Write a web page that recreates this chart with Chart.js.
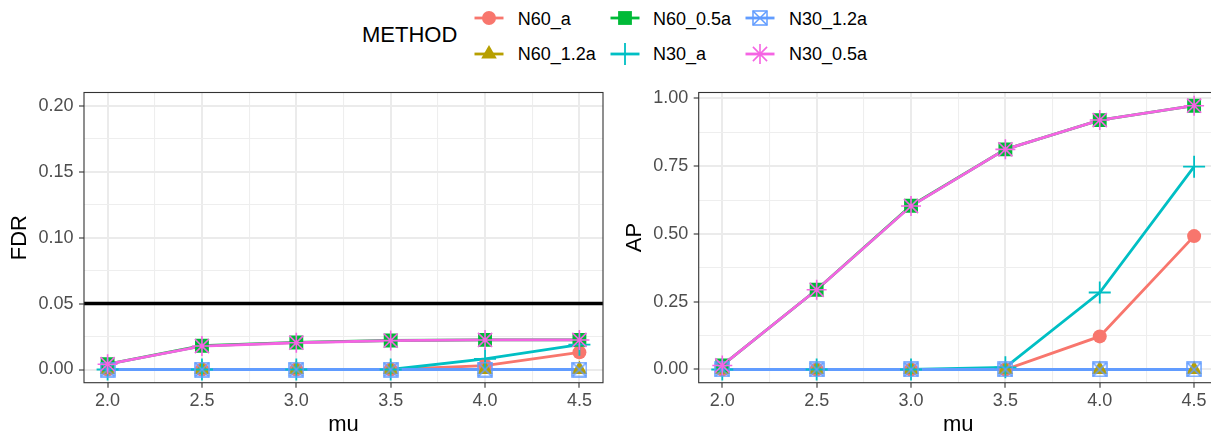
<!DOCTYPE html>
<html>
<head>
<meta charset="utf-8">
<script src="https://cdn.jsdelivr.net/npm/chart.js@4.4.1/dist/chart.umd.min.js"></script>
<style>
  html, body { margin: 0; padding: 0; background: #fff; }
  body { width: 1211px; height: 434px; overflow: hidden; position: relative;
         font-family: "Liberation Sans", Arial, Helvetica, sans-serif; }
  .panel { position: absolute; top: 75px; }
  .lg { position: absolute; white-space: nowrap; color: #000; }
  .lgTitle { font-size: 22px; line-height: 22px; }
  .lgText { font-size: 18px; line-height: 18px; }
  .key { position: absolute; }
</style>
</head>
<body>
<canvas id="fdrChart" class="panel" width="606" height="365" style="left:0px"></canvas>
<canvas id="apChart" class="panel" width="620" height="365" style="left:606px"></canvas>
<div id="legend"></div>

<script>
// x values and tick labels
var muValues = [2.0, 2.5, 3.0, 3.5, 4.0, 4.5];
var muTicks = [2.0, 2.5, 3.0, 3.5, 4.0, 4.5];
var fdrTicks = [0, 0.05, 0.10, 0.15, 0.20];
var apTicks = [0, 0.25, 0.50, 0.75, 1.00];
var methods = ['N60_a', 'N60_1.2a', 'N60_0.5a', 'N30_a', 'N30_1.2a', 'N30_0.5a'];
var fdrLevel = 0.05;

// FDR panel
var fdr_N60_a    = [0, 0, 0, 0, 0.003, 0.013];
var fdr_N60_1_2a = [0, 0, 0, 0, 0, 0];
var fdr_N60_0_5a = [0.004, 0.018, 0.0205, 0.022, 0.0225, 0.0225];
var fdr_N30_a    = [0, 0, 0, 0, 0.008, 0.0188];
var fdr_N30_1_2a = [0, 0, 0, 0, 0, 0];
var fdr_N30_0_5a = [0.004, 0.0178, 0.0203, 0.0219, 0.0224, 0.0224];

// AP panel
var ap_N60_a    = [0, 0, 0, 0, 0.122, 0.492];
var ap_N60_1_2a = [0, 0, 0, 0, 0, 0];
var ap_N60_0_5a = [0.015, 0.294, 0.604, 0.812, 0.920, 0.973];
var ap_N30_a    = [0, 0, 0, 0.008, 0.284, 0.748];
var ap_N30_1_2a = [0, 0, 0, 0, 0, 0];
var ap_N30_0_5a = [0.015, 0.294, 0.603, 0.812, 0.920, 0.973];

var fdrSeries = [fdr_N60_a, fdr_N60_1_2a, fdr_N60_0_5a, fdr_N30_a, fdr_N30_1_2a, fdr_N30_0_5a];
var apSeries = [ap_N60_a, ap_N60_1_2a, ap_N60_0_5a, ap_N30_a, ap_N30_1_2a, ap_N30_0_5a];

var colors = ['#F8766D', '#B79F00', '#00BA38', '#00BFC4', '#619CFF', '#F564E3'];
var shapes = ['circle', 'triangle', 'rect', 'cross', 'boxcross', 'star'];
var FONT = '"Liberation Sans", Arial, Helvetica, sans-serif';

// square with an X (ggplot shape 7)
var boxCross = document.createElement('canvas');
boxCross.width = 16; boxCross.height = 16;
(function () {
  var c = boxCross.getContext('2d');
  c.strokeStyle = colors[4];
  c.lineWidth = 1.5;
  c.strokeRect(1, 1, 14, 14);
  c.beginPath();
  c.moveTo(1, 1); c.lineTo(15, 15);
  c.moveTo(15, 1); c.lineTo(1, 15);
  c.stroke();
})();

function pointOpts(i) {
  var s = shapes[i];
  if (s === 'circle') return { pointStyle: 'circle', pointRadius: 7, pointBorderWidth: 0 };
  if (s === 'triangle') return { pointStyle: 'triangle', pointRadius: 9, pointBorderWidth: 0 };
  if (s === 'rect') return { pointStyle: 'rect', pointRadius: 9.8, pointBorderWidth: 0 };
  if (s === 'cross') return { pointStyle: 'cross', pointRadius: 11, pointBorderWidth: 1.8 };
  if (s === 'star') return { pointStyle: 'star', pointRadius: 10, pointBorderWidth: 1.6 };
  return { pointStyle: boxCross, pointRadius: 8, pointBorderWidth: 0 };
}

function isMajor(v, majors) {
  for (var i = 0; i < majors.length; i++) {
    if (Math.abs(majors[i] - v) < 1e-9) return true;
  }
  return false;
}
function withMinor(majors) {
  var out = [];
  for (var i = 0; i < majors.length; i++) {
    out.push(majors[i]);
    if (i < majors.length - 1) out.push((majors[i] + majors[i + 1]) / 2);
  }
  return out;
}

var panelBorder = {
  id: 'panelBorder',
  afterDatasetsDraw: function (chart) {
    var a = chart.chartArea, ctx = chart.ctx;
    ctx.save();
    ctx.strokeStyle = '#333333';
    ctx.lineWidth = 1.1;
    ctx.strokeRect(a.left, a.top, a.right - a.left, a.bottom - a.top);
    ctx.restore();
  }
};

function gridOpts(majors) {
  return {
    color: function (c) { return c.tick && isMajor(c.tick.value, majors) ? '#EBEBEB' : '#EEEEEE'; },
    lineWidth: function (c) { return c.tick && isMajor(c.tick.value, majors) ? 2 : 1.1; },
    tickColor: function (c) { return c.tick && isMajor(c.tick.value, majors) ? '#333333' : 'rgba(0,0,0,0)'; },
    tickLength: 5,
    tickWidth: 1.1,
    drawTicks: true
  };
}

function makeChart(id, series, yTitle, yTicks, yMin, yMax, digits, yWidth, yTitlePad, padRight, extra) {
  var datasets = [];
  series.forEach(function (vals, i) {
    var pts = muValues.map(function (m, k) { return { x: m, y: vals[k] }; });
    // lines first, then points on top (like ggplot layers)
    datasets.push({
      label: methods[i], data: pts, borderColor: colors[i], backgroundColor: colors[i],
      borderWidth: 2.8, pointRadius: 0, order: 100 - i
    });
    var p = pointOpts(i);
    datasets.push(Object.assign({
      label: methods[i] + ' pts', data: pts, showLine: false,
      borderColor: colors[i], backgroundColor: colors[i],
      pointBackgroundColor: colors[i], pointBorderColor: colors[i], order: 50 - i
    }, p));
  });
  if (extra) datasets.push(extra);

  return new Chart(document.getElementById(id), {
    type: 'line',
    data: { datasets: datasets },
    options: {
      responsive: false,
      animation: false,
      layout: { autoPadding: false, padding: { top: 17.5, right: padRight, left: 0, bottom: 0 } },
      plugins: { legend: { display: false }, tooltip: { enabled: false } },
      scales: {
        x: {
          type: 'linear', min: 1.875, max: 4.625,
          afterBuildTicks: function (s) { s.ticks = withMinor(muTicks).map(function (v) { return { value: v }; }); },
          afterFit: function (s) { s.height = 57.3; s.paddingLeft = 0; s.paddingRight = 0; },
          ticks: {
            autoSkip: false, maxRotation: 0, padding: 2.5, color: '#4D4D4D',
            font: { family: FONT, size: 18 },
            callback: function (v) { return isMajor(v, muTicks) ? v.toFixed(1) : ''; }
          },
          grid: gridOpts(muTicks),
          border: { display: false },
          title: { display: true, text: 'mu', color: '#000', font: { family: FONT, size: 22, lineHeight: 1 },
                   padding: { top: 0, bottom: 4 } }
        },
        y: {
          type: 'linear', min: yMin, max: yMax,
          afterBuildTicks: function (s) { s.ticks = withMinor(yTicks).map(function (v) { return { value: v }; }); },
          afterFit: function (s) { s.width = yWidth; s.paddingTop = 0; s.paddingBottom = 0; },
          ticks: {
            autoSkip: false, padding: 5.5, color: '#4D4D4D',
            font: { family: FONT, size: 18 },
            callback: function (v) { return isMajor(v, yTicks) ? v.toFixed(digits) : ''; }
          },
          grid: gridOpts(yTicks),
          border: { display: false },
          title: { display: true, text: yTitle, color: '#000', font: { family: FONT, size: 22, lineHeight: 1 },
                   padding: { top: yTitlePad, bottom: 0 } }
        }
      }
    },
    plugins: [panelBorder]
  });
}

makeChart('fdrChart', fdrSeries, 'FDR', fdrTicks, -0.01, 0.21, 2, 84, 9, 3, {
  label: 'level', data: [{ x: 1.875, y: fdrLevel }, { x: 4.625, y: fdrLevel }],
  borderColor: '#000', borderWidth: 3.5, pointRadius: 0, order: 200
});
makeChart('apChart', apSeries, 'AP', apTicks, -0.0487, 1.0217, 2, 92.7, 18, 8.3, null);

// legend (2 rows, filled column-wise, title on the left)
function drawMarker(ctx, i, x, y) {
  var s = shapes[i], col = colors[i];
  ctx.save();
  ctx.fillStyle = col; ctx.strokeStyle = col; ctx.lineWidth = 1.8;
  ctx.beginPath();
  if (s === 'circle') { ctx.arc(x, y, 7, 0, Math.PI * 2); ctx.fill(); }
  else if (s === 'triangle') {
    ctx.moveTo(x, y - 9); ctx.lineTo(x + 9 * 0.866, y + 4.5); ctx.lineTo(x - 9 * 0.866, y + 4.5);
    ctx.closePath(); ctx.fill();
  }
  else if (s === 'rect') { ctx.fillRect(x - 6.9, y - 6.9, 13.8, 13.8); }
  else if (s === 'cross') {
    ctx.moveTo(x - 11, y); ctx.lineTo(x + 11, y); ctx.moveTo(x, y - 11); ctx.lineTo(x, y + 11); ctx.stroke();
  }
  else if (s === 'star') {
    var d = 10 * Math.SQRT1_2;
    ctx.lineWidth = 1.6;
    ctx.moveTo(x - 10, y); ctx.lineTo(x + 10, y); ctx.moveTo(x, y - 10); ctx.lineTo(x, y + 10);
    ctx.moveTo(x - d, y - d); ctx.lineTo(x + d, y + d); ctx.moveTo(x + d, y - d); ctx.lineTo(x - d, y + d);
    ctx.stroke();
  }
  else { ctx.drawImage(boxCross, x - 8, y - 8); }
  ctx.restore();
}

var legend = document.getElementById('legend');
var title = document.createElement('div');
title.className = 'lg lgTitle';
title.style.left = '362px'; title.style.top = '24.4px';
title.textContent = 'METHOD';
legend.appendChild(title);

var keyX = [488.5, 624.6, 760];
var textX = [517.7, 653, 789];
var rowY = [18, 53.5];
var rowTextTop = [9.6, 45.1];
methods.forEach(function (m, i) {
  var col = Math.floor(i / 2), row = i % 2;
  var cv = document.createElement('canvas');
  cv.width = 40; cv.height = 36; cv.className = 'key';
  cv.style.left = (keyX[col] - 20) + 'px'; cv.style.top = (rowY[row] - 18) + 'px';
  legend.appendChild(cv);
  var ctx = cv.getContext('2d');
  ctx.strokeStyle = colors[i]; ctx.lineWidth = 2.8;
  ctx.beginPath(); ctx.moveTo(5.5, 18); ctx.lineTo(34.5, 18); ctx.stroke();
  drawMarker(ctx, i, 20, 18);
  var t = document.createElement('div');
  t.className = 'lg lgText';
  t.style.left = textX[col] + 'px'; t.style.top = rowTextTop[row] + 'px';
  t.textContent = m;
  legend.appendChild(t);
});
</script>
</body>
</html>
